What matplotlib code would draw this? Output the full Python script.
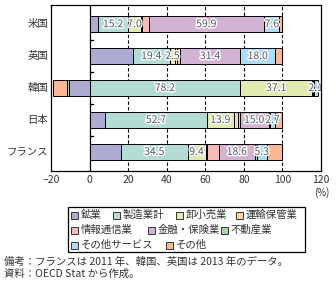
import matplotlib
matplotlib.use("Agg")
import matplotlib.pyplot as plt
import matplotlib.patheffects as pe
from matplotlib.patches import Rectangle
import numpy as np

plt.rcParams['font.family'] = ['Noto Sans CJK JP', 'DejaVu Sans']

countries = ["米国", "英国", "韓国", "日本", "フランス"]
sectors = ["鉱業", "製造業計", "卸小売業", "運輸保管業", "情報通信業",
           "金融・保険業", "不動産業", "その他サービス", "その他"]
colors = ["#aeabd3", "#b2dcd4", "#dfe9b0", "#fcd6a3", "#f6bcbb",
          "#d2b3d4", "#acd5a9", "#addcf4", "#f8b894"]

# share by sector (%), one list per country
us = [4.6, 15.2, 7.0, 0.6, 3.2, 59.9, 0.2, 7.6, 1.7]
uk = [22.3, 19.4, 2.5, 1.2, 1.4, 31.4, 0.0, 18.0, 3.8]
kr = [-10.5, 78.2, 37.1, 0.3, 0.3, 0.3, -1.0, 2.1, -7.3]
jp = [8.1, 52.7, 13.9, 2.1, 1.0, 15.0, 0.8, 2.7, 3.7]
fr = [16.3, 34.5, 9.4, 0.9, 6.0, 18.6, 0.9, 5.3, 8.1]
data = np.array([us, uk, kr, jp, fr])

# value labels shown on the bars: (country index, sector index)
shown = [(0, 1), (0, 2), (0, 5), (0, 7),
         (1, 1), (1, 2), (1, 5), (1, 7),
         (2, 1), (2, 2), (2, 7),
         (3, 1), (3, 2), (3, 5), (3, 7),
         (4, 1), (4, 2), (4, 5), (4, 7)]

W, H = 336, 287
fig = plt.figure(figsize=(W / 100, H / 100), dpi=100)
ax = fig.add_axes([51 / W, 1 - 171 / H, 270 / W, 166 / H])

y = np.arange(len(countries))
pos = np.zeros(len(countries))
neg = np.zeros(len(countries))
lefts = np.zeros(data.shape)
for j in range(len(sectors)):
    vals = data[:, j]
    left = np.where(vals >= 0, pos, neg)
    lefts[:, j] = left
    ax.barh(y, vals, left=left, height=0.5, color=colors[j],
            edgecolor="black", linewidth=0.7, zorder=2)
    pos = pos + np.where(vals >= 0, vals, 0)
    neg = neg + np.where(vals < 0, vals, 0)

for i, j in shown:
    v = data[i, j]
    t = ax.text(lefts[i, j] + v / 2, y[i], f"{v:.1f}", ha="center", va="center",
                fontsize=7.5, color="#555566", zorder=3, clip_on=True)
    t.set_path_effects([pe.withStroke(linewidth=2, foreground="white")])

ax.set_xlim(-20, 120)
ax.set_ylim(4.6, -0.6)
ax.set_xticks(np.arange(-20, 121, 20))
ax.tick_params(axis="x", length=0, labelsize=7.5, pad=3, colors="#333333")
ax.set_yticks([])
for k, c in enumerate(countries):
    ax.text(-21.5, k, c, ha="right", va="center", fontsize=7.5, color="#333333",
            clip_on=False)

for xv in [20, 40, 60, 80, 100]:
    ax.axvline(xv, color="black", linestyle=(0, (3, 2)), linewidth=0.8, zorder=1)
ax.axvline(0, color="black", linewidth=0.9, zorder=1)
for k in range(len(countries) - 1):
    ax.plot([0, 2], [k + 0.5, k + 0.5], color="black", linewidth=0.9, zorder=1)

for s in ax.spines.values():
    s.set_linewidth(0.9)

fig.text(322 / W, 1 - 193 / H, "(%)", ha="center", va="center", fontsize=7,
         color="#333333")

# legend drawn by hand, flowing row by row like the original
leg_pos = [(71, 215), (112.7, 215), (176, 215), (236, 215),
           (71, 230), (147.7, 230), (221, 230),
           (71, 245), (166, 245)]
fig.patches.append(Rectangle((67.7 / W, 1 - 251.7 / H), 237.6 / W, 45 / H,
                             transform=fig.transFigure, facecolor="white",
                             edgecolor="black", linewidth=0.9))
for k, (px, py) in enumerate(leg_pos):
    fig.patches.append(Rectangle((px / W, 1 - (py + 3.5) / H), 7 / W, 7 / H,
                                 transform=fig.transFigure, facecolor=colors[k],
                                 edgecolor="#333333", linewidth=0.7))
    fig.text((px + 10) / W, 1 - py / H, sectors[k], ha="left", va="center",
             fontsize=7.5, color="#333333")

fig.text(4 / W, 1 - 261.5 / H, "備考：フランスは 2011 年、韓国、英国は 2013 年のデータ。",
         fontsize=7.5, color="#333333", va="center")
fig.text(4 / W, 1 - 274 / H, "資料：OECD Stat から作成。", fontsize=7.5,
         color="#333333", va="center")

fig.savefig("out.png", dpi=100)
